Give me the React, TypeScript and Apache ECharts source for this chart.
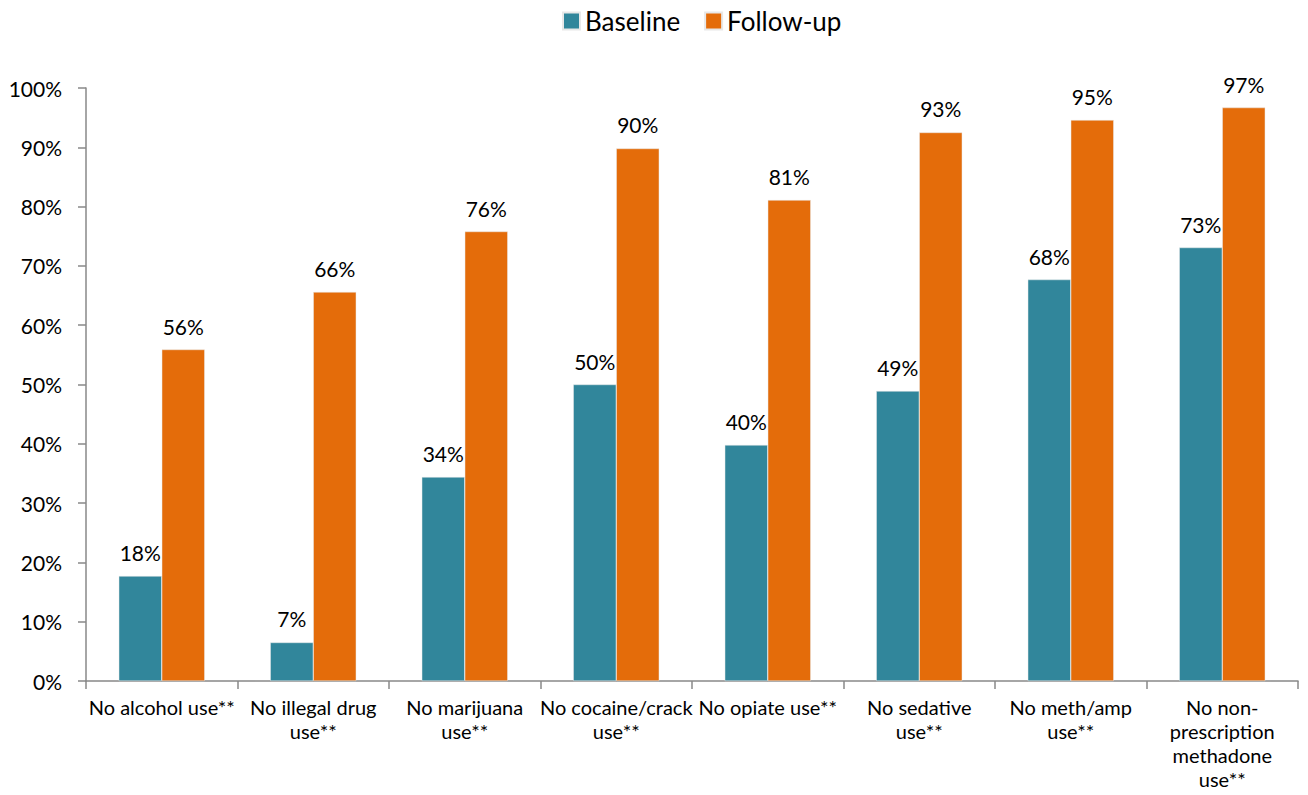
import React, { useEffect, useRef } from "react";
import * as echarts from "echarts";

const categories = [
  "No alcohol use**",
  "No illegal drug\nuse**",
  "No marijuana\nuse**",
  "No cocaine/crack\nuse**",
  "No opiate use**",
  "No sedative\nuse**",
  "No meth/amp\nuse**",
  "No non-\nprescription\nmethadone\nuse**",
];
const baseline = [17.7, 6.5, 34.4, 50.0, 39.8, 48.9, 67.7, 73.1];
const followUp = [55.9, 65.6, 75.8, 89.8, 81.1, 92.5, 94.6, 96.7];
const seriesNames = ["Baseline", "Follow-up"];
const colors = ["#31869B", "#E46C0A"];

const FONT = "Lato, 'Open Sans', sans-serif";

export default function App() {
  const ref = useRef<HTMLDivElement>(null);
  useEffect(() => {
    if (!ref.current) return;
    const chart = echarts.init(ref.current, undefined, { renderer: "svg" });
    const label = {
      show: true,
      position: "top" as const,
      distance: 13,
      color: "#000",
      fontSize: 21,
      fontFamily: FONT,
      formatter: (p: any) => Math.round(p.value) + "%",
    };
    chart.setOption({
      animation: false,
      textStyle: { fontFamily: FONT },
      legend: {
        top: 3,
        left: 557,
        icon: "rect",
        itemWidth: 17,
        itemHeight: 17,
        itemGap: 24,
        textStyle: { fontSize: 26, color: "#000", fontFamily: FONT },
        data: seriesNames,
      },
      grid: { left: 86, right: 10, top: 88, bottom: 114 },
      xAxis: {
        type: "category",
        data: categories,
        axisLine: { lineStyle: { color: "#888", width: 1.5 } },
        axisTick: { show: true, alignWithLabel: false, length: 8, lineStyle: { color: "#888", width: 1.5 } },
        axisLabel: {
          interval: 0,
          color: "#000",
          fontSize: 20,
          lineHeight: 24,
          margin: 14,
          fontFamily: FONT,
        },
      },
      yAxis: {
        type: "value",
        min: 0,
        max: 100,
        interval: 10,
        axisLine: { show: true, lineStyle: { color: "#888", width: 1.5 } },
        axisTick: { show: true, length: 8, lineStyle: { color: "#888", width: 1.5 } },
        splitLine: { show: false },
        axisLabel: {
          color: "#000",
          fontSize: 21,
          margin: 24,
          fontFamily: FONT,
          formatter: "{value}%",
        },
      },
      series: [
        {
          name: seriesNames[0],
          type: "bar",
          data: baseline,
          barWidth: 43,
          barGap: "0%",
          itemStyle: { color: colors[0], borderColor: "#e8e8e8", borderWidth: 0.5 },
          label,
        },
        {
          name: seriesNames[1],
          type: "bar",
          data: followUp,
          barWidth: 43,
          barGap: "0%",
          itemStyle: { color: colors[1], borderColor: "#e8e8e8", borderWidth: 0.5 },
          label,
        },
      ],
    });
    return () => chart.dispose();
  }, []);
  return (
    <div
      ref={ref}
      style={{ position: "absolute", left: 0, top: 0, width: 1308, height: 795 }}
    />
  );
}
